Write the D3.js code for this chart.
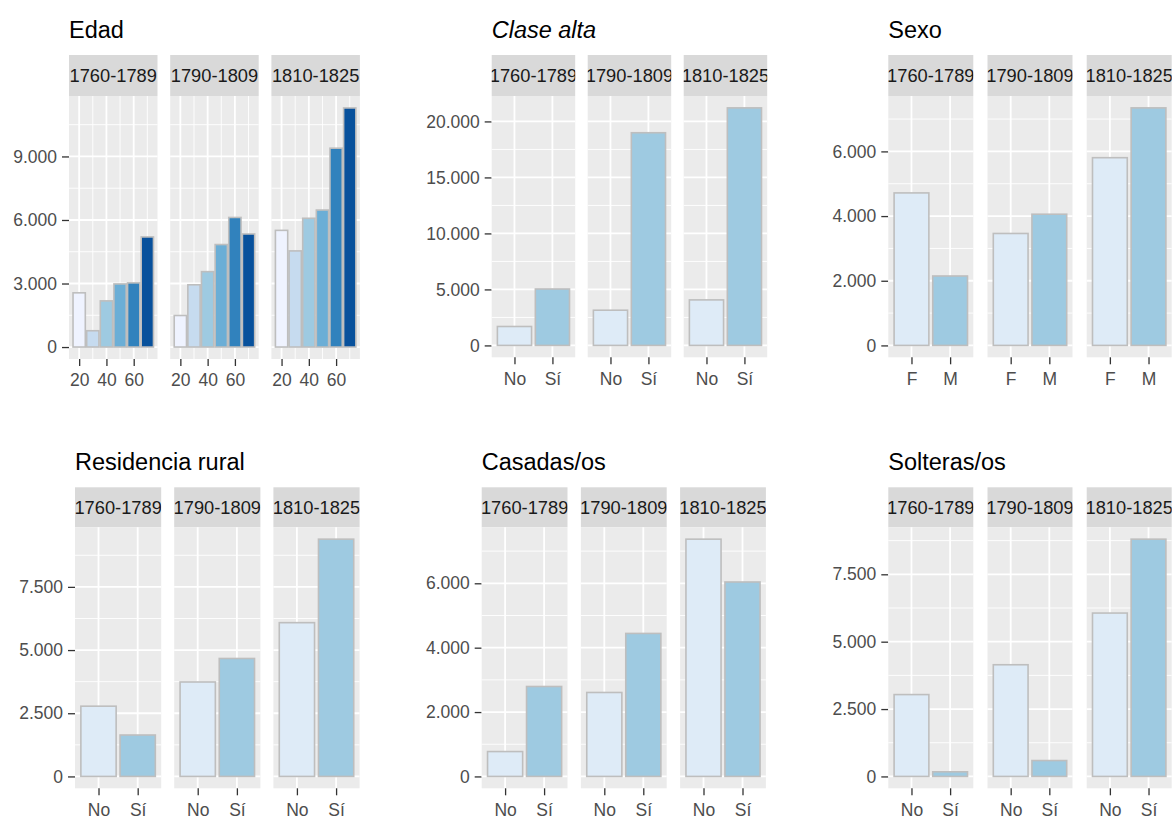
<!DOCTYPE html>
<html>
<head>
<meta charset="utf-8">
<script src="https://cdn.jsdelivr.net/npm/d3@7"></script>
<style>
  html, body { margin: 0; padding: 0; background: #ffffff; }
  svg { display: block; font-family: "Liberation Sans", Arial, sans-serif; }
</style>
</head>
<body>
<svg id="chart" width="1173" height="819"></svg>
<script>
// ---------- DATA ----------
const periods = ["1760-1789", "1790-1809", "1810-1825"];

const ageGroups = [20, 30, 40, 50, 60, 70];
const ageTicks = [20, 40, 60];
const ageMinorTicks = [30, 50, 70];
const edadValues = [
  [2560, 770, 2180, 2980, 3030, 5200],
  [1490, 2940, 3560, 4840, 6120, 5340],
  [5510, 4540, 6080, 6470, 9390, 11290]
];
const edadTicks = [0, 3000, 6000, 9000];

const noSi = ["No", "Sí"];
const sexCats = ["F", "M"];

const claseAltaValues = [[1690, 5040], [3145, 18990], [4065, 21210]];
const claseAltaTicks = [0, 5000, 10000, 15000, 20000];

const sexoValues = [[4716, 2147], [3462, 4058], [5805, 7346]];
const sexoTicks = [0, 2000, 4000, 6000];

const ruralValues = [[2780, 1639], [3737, 4668], [6084, 9388]];
const ruralTicks = [0, 2500, 5000, 7500];

const casadasValues = [[773, 2794], [2608, 4443], [7371, 6041]];
const casadasTicks = [0, 2000, 4000, 6000];

const solterasValues = [[3037, 172], [4144, 590], [6062, 8804]];
const solterasTicks = [0, 2500, 5000, 7500];

const blues6 = ["#EFF3FF", "#C6DBEF", "#9ECAE1", "#6BAED6", "#3182BD", "#08519C"];
const blues2 = ["#DEEBF7", "#9ECAE1"];

// ---------- LAYOUT ----------
const panels = [
  { title: "Edad", italic: false, kind: "age", values: edadValues, ticks: edadTicks,
    x0: 69, fw: 88.5, gap: 12.7, stripTop: 55, panelTop: 96, bottom: 359, titleY: 38 },
  { title: "Clase alta", italic: true, kind: "cat", cats: noSi, values: claseAltaValues, ticks: claseAltaTicks,
    x0: 491.7, fw: 83.5, gap: 12.5, stripTop: 55, panelTop: 96, bottom: 357.3, titleY: 38 },
  { title: "Sexo", italic: false, kind: "cat", cats: sexCats, values: sexoValues, ticks: sexoTicks,
    x0: 888.3, fw: 85, gap: 14.2, stripTop: 55, panelTop: 96, bottom: 357.3, titleY: 38 },
  { title: "Residencia rural", italic: false, kind: "cat", cats: noSi, values: ruralValues, ticks: ruralTicks,
    x0: 75, fw: 86.2, gap: 13, stripTop: 487.3, panelTop: 527.3, bottom: 788.3, titleY: 470 },
  { title: "Casadas/os", italic: false, kind: "cat", cats: noSi, values: casadasValues, ticks: casadasTicks,
    x0: 481.7, fw: 85.8, gap: 13.4, stripTop: 487.3, panelTop: 527.3, bottom: 788.3, titleY: 470 },
  { title: "Solteras/os", italic: false, kind: "cat", cats: noSi, values: solterasValues, ticks: solterasTicks,
    x0: 888.3, fw: 85, gap: 14.2, stripTop: 487.3, panelTop: 527.3, bottom: 788.3, titleY: 470 }
];

const loc = d3.formatLocale({ decimal: ",", thousands: ".", grouping: [3], currency: ["", "€"] });
const fmt = loc.format(",d");

const svg = d3.select("#chart");
const defs = svg.append("defs");

panels.forEach((p, pi) => {
  const g = svg.append("g");
  const maxV = d3.max(p.values.flat());
  const y = d3.scaleLinear()
    .domain([-0.05 * maxV, 1.05 * maxV])
    .range([p.bottom, p.panelTop]);
  const step = p.ticks[1] - p.ticks[0];
  const minor = d3.range(step / 2, 1.05 * maxV, step);

  // title
  g.append("text")
    .attr("x", p.x0)
    .attr("y", p.titleY)
    .attr("font-size", 23.5)
    .attr("fill", "#000")
    .attr("font-style", p.italic ? "italic" : "normal")
    .text(p.title);

  // y axis
  const yAxis = d3.axisLeft(y).tickValues(p.ticks).tickFormat(fmt).tickSize(7).tickPadding(5);
  const ya = g.append("g").attr("transform", `translate(${p.x0},0)`).call(yAxis);
  ya.select(".domain").remove();
  ya.selectAll(".tick line").attr("stroke", "#333333").attr("stroke-width", 1.3);
  ya.selectAll(".tick text").attr("font-size", 17.5).attr("fill", "#4D4D4D")
    .attr("font-family", "Liberation Sans, Arial, sans-serif");

  periods.forEach((per, fi) => {
    const fx = p.x0 + fi * (p.fw + p.gap);
    const fg = g.append("g");

    // strip
    const clipId = `clip-${pi}-${fi}`;
    defs.append("clipPath").attr("id", clipId)
      .append("rect").attr("x", fx).attr("y", p.stripTop).attr("width", p.fw).attr("height", p.panelTop - p.stripTop);
    fg.append("rect").attr("x", fx).attr("y", p.stripTop).attr("width", p.fw)
      .attr("height", p.panelTop - p.stripTop).attr("fill", "#D9D9D9");
    fg.append("text").attr("clip-path", `url(#${clipId})`)
      .attr("x", fx + p.fw / 2).attr("y", p.stripTop + (p.panelTop - p.stripTop) / 2)
      .attr("dy", "0.36em")
      .attr("text-anchor", "middle").attr("font-size", 18.3).attr("fill", "#1A1A1A")
      .text(per);

    // panel background
    fg.append("rect").attr("x", fx).attr("y", p.panelTop).attr("width", p.fw)
      .attr("height", p.bottom - p.panelTop).attr("fill", "#EBEBEB");

    let x, xMajor, xMinor, bars;
    if (p.kind === "age") {
      const barW = 9;
      const lo = ageGroups[0] - barW / 2, hi = ageGroups[ageGroups.length - 1] + barW / 2;
      const ex = (hi - lo) * 0.05;
      x = d3.scaleLinear().domain([lo - ex, hi + ex]).range([fx, fx + p.fw]);
      xMajor = ageTicks; xMinor = ageMinorTicks;
      bars = ageGroups.map((a, i) => ({ x0: x(a - barW / 2), x1: x(a + barW / 2), v: p.values[fi][i], c: blues6[i] }));
    } else {
      x = d3.scaleLinear().domain([0.4, p.cats.length + 0.6]).range([fx, fx + p.fw]);
      xMajor = p.cats.map((c, i) => i + 1); xMinor = [];
      bars = p.cats.map((c, i) => ({ x0: x(i + 1 - 0.45), x1: x(i + 1 + 0.45), v: p.values[fi][i], c: blues2[i] }));
    }

    // grid minor
    fg.selectAll(null).data(minor).enter().append("line")
      .attr("x1", fx).attr("x2", fx + p.fw).attr("y1", d => y(d)).attr("y2", d => y(d))
      .attr("stroke", "#fff").attr("stroke-width", 0.9);
    fg.selectAll(null).data(xMinor).enter().append("line")
      .attr("x1", d => x(d)).attr("x2", d => x(d)).attr("y1", p.panelTop).attr("y2", p.bottom)
      .attr("stroke", "#fff").attr("stroke-width", 0.9);
    // grid major
    fg.selectAll(null).data(p.ticks).enter().append("line")
      .attr("x1", fx).attr("x2", fx + p.fw).attr("y1", d => y(d)).attr("y2", d => y(d))
      .attr("stroke", "#fff").attr("stroke-width", 1.8);
    fg.selectAll(null).data(xMajor).enter().append("line")
      .attr("x1", d => x(d)).attr("x2", d => x(d)).attr("y1", p.panelTop).attr("y2", p.bottom)
      .attr("stroke", "#fff").attr("stroke-width", 1.8);

    // bars
    fg.selectAll(null).data(bars).enter().append("rect")
      .attr("x", d => d.x0).attr("width", d => d.x1 - d.x0)
      .attr("y", d => y(d.v)).attr("height", d => y(0) - y(d.v))
      .attr("fill", d => d.c).attr("stroke", "#BEBEBE").attr("stroke-width", 1.6);

    // x axis
    const xAxis = d3.axisBottom(x).tickValues(xMajor).tickSize(7).tickPadding(8)
      .tickFormat(d => p.kind === "age" ? d : p.cats[d - 1]);
    const xa = fg.append("g").attr("transform", `translate(0,${p.bottom})`).call(xAxis);
    xa.select(".domain").remove();
    xa.selectAll(".tick line").attr("stroke", "#333333").attr("stroke-width", 1.3);
    xa.selectAll(".tick text").attr("font-size", 17.5).attr("fill", "#4D4D4D")
      .attr("font-family", "Liberation Sans, Arial, sans-serif");
  });
});
</script>
</body>
</html>
